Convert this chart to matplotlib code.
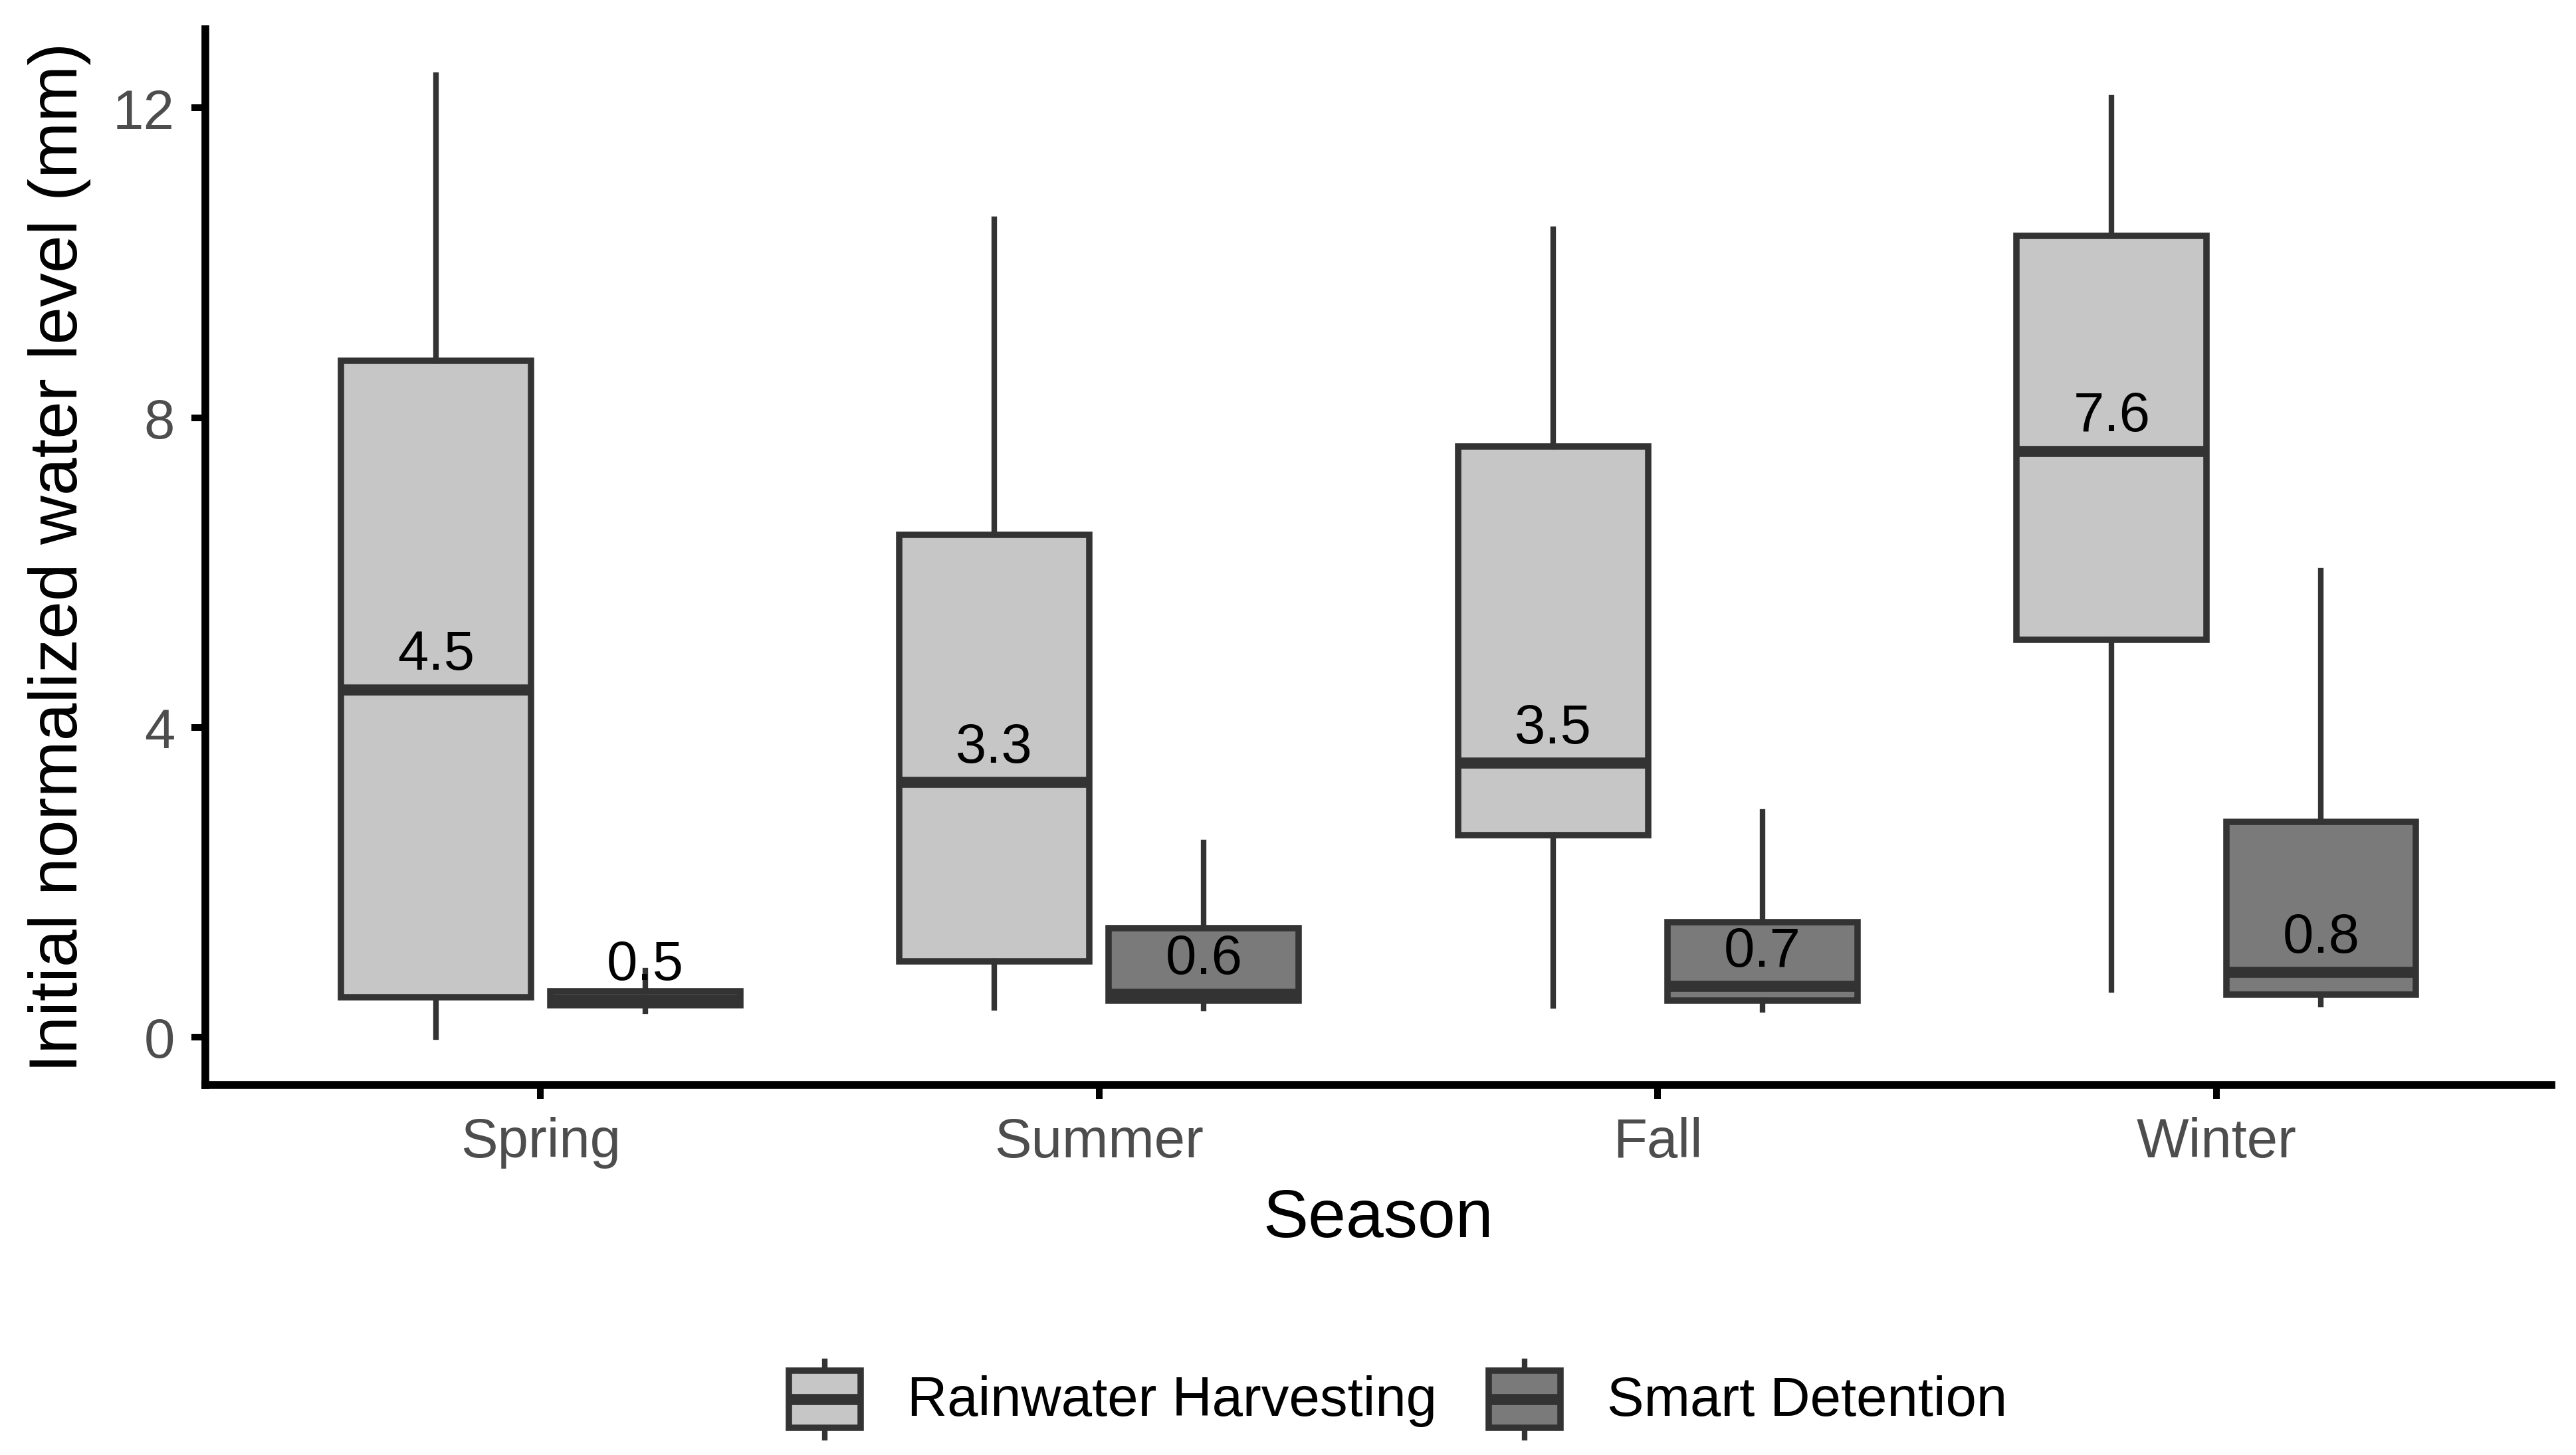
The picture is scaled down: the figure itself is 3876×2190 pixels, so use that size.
import matplotlib
matplotlib.use('Agg')
import matplotlib.pyplot as plt
from matplotlib.patches import Rectangle
from matplotlib.lines import Line2D
import numpy as np

plt.rcParams['font.family'] = ['Liberation Sans', 'DejaVu Sans']

seasons = ['Spring', 'Summer', 'Fall', 'Winter']
groups = ['Rainwater Harvesting', 'Smart Detention']

# box statistics (mm)
rwh_whislo = [0.00, 0.38, 0.40, 0.61]
rwh_q1 = [0.51, 0.98, 2.61, 5.13]
rwh_med = [4.49, 3.29, 3.54, 7.57]
rwh_q3 = [8.73, 6.49, 7.63, 10.35]
rwh_whishi = [12.42, 10.56, 10.43, 12.13]

sd_whislo = [0.33, 0.37, 0.35, 0.42]
sd_q1 = [0.41, 0.47, 0.47, 0.55]
sd_med = [0.48, 0.56, 0.66, 0.84]
sd_q3 = [0.59, 1.41, 1.48, 2.78]
sd_whishi = [0.86, 2.51, 2.91, 6.02]

fills = ['#C6C6C6', '#7A7A7A']
edge = '#333333'


def make_stats(lo, q1, med, q3, hi):
    return [dict(whislo=a, q1=b, med=c, q3=d, whishi=e, fliers=[])
            for a, b, c, d, e in zip(lo, q1, med, q3, hi)]


rwh_stats = make_stats(rwh_whislo, rwh_q1, rwh_med, rwh_q3, rwh_whishi)
sd_stats = make_stats(sd_whislo, sd_q1, sd_med, sd_q3, sd_whishi)

fig = plt.figure(figsize=(12.92, 7.303), dpi=300)
ax = fig.add_axes([0.0797, 0.2542, 0.9108, 0.7255])

x = np.arange(1, len(seasons) + 1)
offset = 0.1875
width = 0.34

for stats, pos, col in [(rwh_stats, x - offset, fills[0]), (sd_stats, x + offset, fills[1])]:
    ax.bxp(stats, positions=pos, widths=width, patch_artist=True,
           showcaps=False, showfliers=False,
           boxprops=dict(facecolor=col, edgecolor=edge, linewidth=2.3),
           whiskerprops=dict(color=edge, linewidth=2.0),
           medianprops=dict(color=edge, linewidth=4.0, solid_capstyle='butt'),
           manage_ticks=False, zorder=2)

# median labels
for pos, meds in [(x - offset, rwh_med), (x + offset, sd_med)]:
    for p, m in zip(pos, meds):
        ax.text(p, m + 0.26, f'{m:.1f}', ha='center', va='baseline',
                fontsize=20, color='black', zorder=5)

ax.set_xlim(0.4, 4.6)
ax.set_ylim(-0.62, 13.02)
ax.set_yticks([0, 4, 8, 12])
ax.set_xticks(x)
ax.set_xticklabels(seasons)

for s in ['top', 'right']:
    ax.spines[s].set_visible(False)
for s in ['left', 'bottom']:
    ax.spines[s].set_linewidth(2.8)
    ax.spines[s].set_color('black')
    ax.spines[s].set_capstyle('projecting')

ax.tick_params(axis='both', length=5, width=2.4, color='black',
               labelsize=20, labelcolor='#4D4D4D')
ax.tick_params(axis='x', pad=6.2)
ax.tick_params(axis='y', pad=6)

ax.set_xlabel('Season', fontsize=24.5, color='black', labelpad=7)
ax.set_ylabel('Initial normalized water level (mm)', fontsize=24.5,
              color='black', labelpad=8)

# legend drawn at the bottom centre
W, H = 3876.0, 2191.0
key_left = [1187, 2240]
key_w = 108
key_top, key_bot = 2064, 2150
whisk_top, whisk_bot = 2050, 2165
text_left = [1365, 2418]
for i, g in enumerate(groups):
    x0 = key_left[i] / W
    xc = (key_left[i] + key_w / 2) / W
    fig.add_artist(Line2D([xc, xc], [1 - whisk_top / H, 1 - whisk_bot / H],
                          transform=fig.transFigure, color=edge, linewidth=2.0,
                          zorder=2))
    fig.add_artist(Rectangle((x0, 1 - key_bot / H), key_w / W, (key_bot - key_top) / H,
                             transform=fig.transFigure, facecolor=fills[i],
                             edgecolor=edge, linewidth=2.3, zorder=3))
    ym = 1 - (key_top + key_bot) / 2 / H
    fig.add_artist(Line2D([x0, x0 + key_w / W], [ym, ym], transform=fig.transFigure,
                          color=edge, linewidth=4.0, solid_capstyle='butt', zorder=4))
    fig.text(text_left[i] / W, 1 - 2131 / H, g, fontsize=20, color='black',
             ha='left', va='baseline')

fig.savefig('out.png', dpi=300, facecolor='white')
